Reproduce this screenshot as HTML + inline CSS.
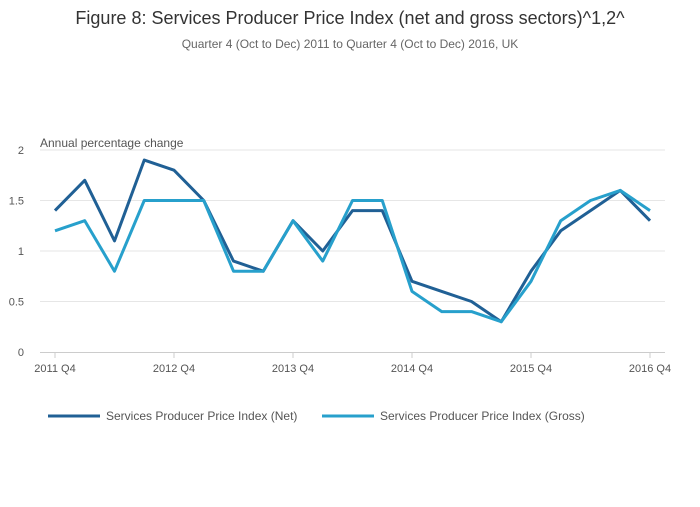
<!DOCTYPE html>
<html><head><meta charset="utf-8"><style>
body{margin:0;background:#fff;font-family:"Liberation Sans",sans-serif;}
svg text{font-family:"Liberation Sans",sans-serif;}
</style></head><body>
<svg id="chart" width="700" height="502">
<text x="350" y="24" text-anchor="middle" font-size="18" fill="#333">Figure 8: Services Producer Price Index (net and gross sectors)^1,2^</text>
<text x="350" y="48" text-anchor="middle" font-size="12" fill="#666">Quarter 4 (Oct to Dec) 2011 to Quarter 4 (Oct to Dec) 2016, UK</text>
<text x="40" y="147" font-size="12" fill="#555">Annual percentage change</text>
<g id="grid"></g><g id="xaxis"></g><g id="lines"></g>
<g>
<line x1="48" y1="416" x2="100" y2="416" stroke="#206095" stroke-width="3"/>
<text x="106" y="420" font-size="12" fill="#555">Services Producer Price Index (Net)</text>
<line x1="322" y1="416" x2="374" y2="416" stroke="#27a0cc" stroke-width="3"/>
<text x="380" y="420" font-size="12" fill="#555">Services Producer Price Index (Gross)</text>
</g>
</svg>
<script>
const quarters=21;
const xTickLabels=["2011 Q4","2012 Q4","2013 Q4","2014 Q4","2015 Q4","2016 Q4"];
const yTicks=[0,0.5,1,1.5,2];
const netValues=[1.4,1.7,1.1,1.9,1.8,1.5,0.9,0.8,1.3,1.0,1.4,1.4,0.7,0.6,0.5,0.3,0.8,1.2,1.4,1.6,1.3];
const grossValues=[1.2,1.3,0.8,1.5,1.5,1.5,0.8,0.8,1.3,0.9,1.5,1.5,0.6,0.4,0.4,0.3,0.7,1.3,1.5,1.6,1.4];
const NS="http://www.w3.org/2000/svg";
const x=i=>55+i*(650-55)/(quarters-1);
const y=v=>352-v*101;
function mk(t,a,p){const e=document.createElementNS(NS,t);for(const k in a)e.setAttribute(k,a[k]);p.appendChild(e);return e;}
const grid=document.getElementById('grid');
yTicks.forEach(v=>{
  if(v>0){const l=mk('line',{x1:40,x2:665,y1:y(v),y2:y(v),stroke:'#e6e6e6'},grid);
  
  }
  const t=mk('text',{x:24,y:y(v)+4,'text-anchor':'end','font-size':11,fill:'#555'},grid);
  t.textContent=v;
  
  
});
const xa=document.getElementById('xaxis');
const ax=mk('line',{x1:40,x2:665,y1:352.5,y2:352.5,stroke:'#ccc'},xa);


xTickLabels.forEach((s,k)=>{
  const xx=x(k*4);
  const tk=mk('line',{x1:xx,x2:xx,y1:352,y2:358,stroke:'#ccc'},xa);
  
  
  const t=mk('text',{x:xx,y:372,'text-anchor':'middle','font-size':11,fill:'#555'},xa);
  t.textContent=s;
  
  
});
const lines=document.getElementById('lines');
[[netValues,'#206095','net-line'],[grossValues,'#27a0cc','gross-line']].forEach(([vals,c,n])=>{
  const p=mk('polyline',{points:vals.map((v,i)=>x(i)+','+y(v)).join(' '),fill:'none',stroke:c,'stroke-width':3,'stroke-linejoin':'round'},lines);
  
  
});
</script>
</body></html>
